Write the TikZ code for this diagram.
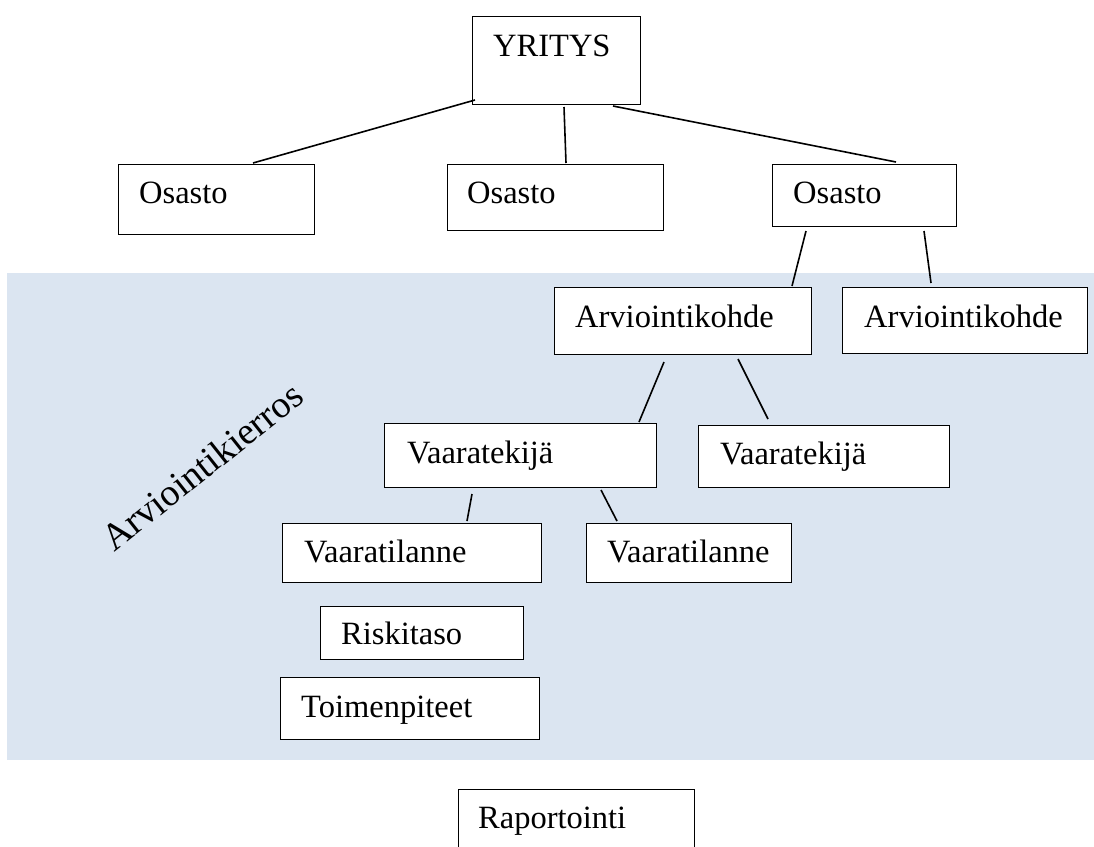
\documentclass[tikz,border=0pt]{standalone}
\usepackage{fontspec}
\setmainfont{Liberation Serif}
\definecolor{panel}{HTML}{DBE5F1}
\begin{document}
\begin{tikzpicture}[x=1pt,y=-1pt,
  box/.style={draw=black, line width=1.3pt, fill=white, inner sep=0pt, anchor=north west},
  lbl/.style={anchor=base west, inner sep=0pt, font=\fontsize{32.5}{38}\selectfont},
  link/.style={draw=black, line width=1.6pt}]
\useasboundingbox (0,0) rectangle (1094,846);
\clip (0,0) rectangle (1094,846);
\fill[white] (0,0) rectangle (1094,846);
% panel
\fill[panel] (7,273) rectangle (1094,760);
% boxes
\node[box, minimum width=168pt, minimum height=88pt] (yr)  at (472,16)  {};
\node[box, minimum width=196pt, minimum height=70pt] (os1) at (118,164) {};
\node[box, minimum width=216pt, minimum height=66pt] (os2) at (447,164) {};
\node[box, minimum width=184pt, minimum height=62pt] (os3) at (772,164) {};
\node[box, minimum width=257pt, minimum height=67pt] (ak1) at (554,287) {};
\node[box, minimum width=245pt, minimum height=66pt] (ak2) at (842,287) {};
\node[box, minimum width=272pt, minimum height=64pt] (vt1) at (384,423) {};
\node[box, minimum width=251pt, minimum height=62pt] (vt2) at (698,425) {};
\node[box, minimum width=259pt, minimum height=59pt] (vl1) at (282,523) {};
\node[box, minimum width=205pt, minimum height=59pt] (vl2) at (586,523) {};
\node[box, minimum width=203pt, minimum height=53pt] (rt)  at (320,606) {};
\node[box, minimum width=259pt, minimum height=62pt] (tp)  at (280,677) {};
\node[box, minimum width=236pt, minimum height=70pt] (rp)  at (458,789) {};
% labels
\node[lbl] (yr-t)  at (493,56)  {YRITYS};
\node[lbl] (os1-t) at (139,203) {Osasto};
\node[lbl] (os2-t) at (467,203) {Osasto};
\node[lbl] (os3-t) at (793,203) {Osasto};
\node[lbl] (ak1-t) at (575,327) {Arviointikohde};
\node[lbl] (ak2-t) at (864,327) {Arviointikohde};
\node[lbl] (vt1-t) at (407,463) {Vaaratekijä};
\node[lbl] (vt2-t) at (720,464) {Vaaratekijä};
\node[lbl] (vl1-t) at (304,562) {Vaaratilanne};
\node[lbl] (vl2-t) at (607,562) {Vaaratilanne};
\node[lbl] (rt-t)  at (341,644) {Riskitaso};
\node[lbl] (tp-t)  at (301,717) {Toimenpiteet};
\node[lbl] (rp-t)  at (478,828) {Raportointi};
\node[lbl, rotate=38.5, font=\fontsize{38}{42}\selectfont] (kierros) at (114,553) {Arviointikierros};
% connector end points
\coordinate (c1a) at (475,100); \coordinate (c1b) at (253,163);
\coordinate (c2a) at (564,107); \coordinate (c2b) at (566,163);
\coordinate (c3a) at (613,106); \coordinate (c3b) at (896,162);
\coordinate (c4a) at (806,231); \coordinate (c4b) at (792,286);
\coordinate (c5a) at (924,231); \coordinate (c5b) at (931,283);
\coordinate (c6a) at (664,362); \coordinate (c6b) at (639,422);
\coordinate (c7a) at (738,359); \coordinate (c7b) at (768,419);
\coordinate (c8a) at (472,494); \coordinate (c8b) at (467,521);
\coordinate (c9a) at (601,490); \coordinate (c9b) at (617,521);
\draw[link] (c1a) -- (c1b);
\draw[link] (c2a) -- (c2b);
\draw[link] (c3a) -- (c3b);
\draw[link] (c4a) -- (c4b);
\draw[link] (c5a) -- (c5b);
\draw[link] (c6a) -- (c6b);
\draw[link] (c7a) -- (c7b);
\draw[link] (c8a) -- (c8b);
\draw[link] (c9a) -- (c9b);
\end{tikzpicture}
\end{document}
